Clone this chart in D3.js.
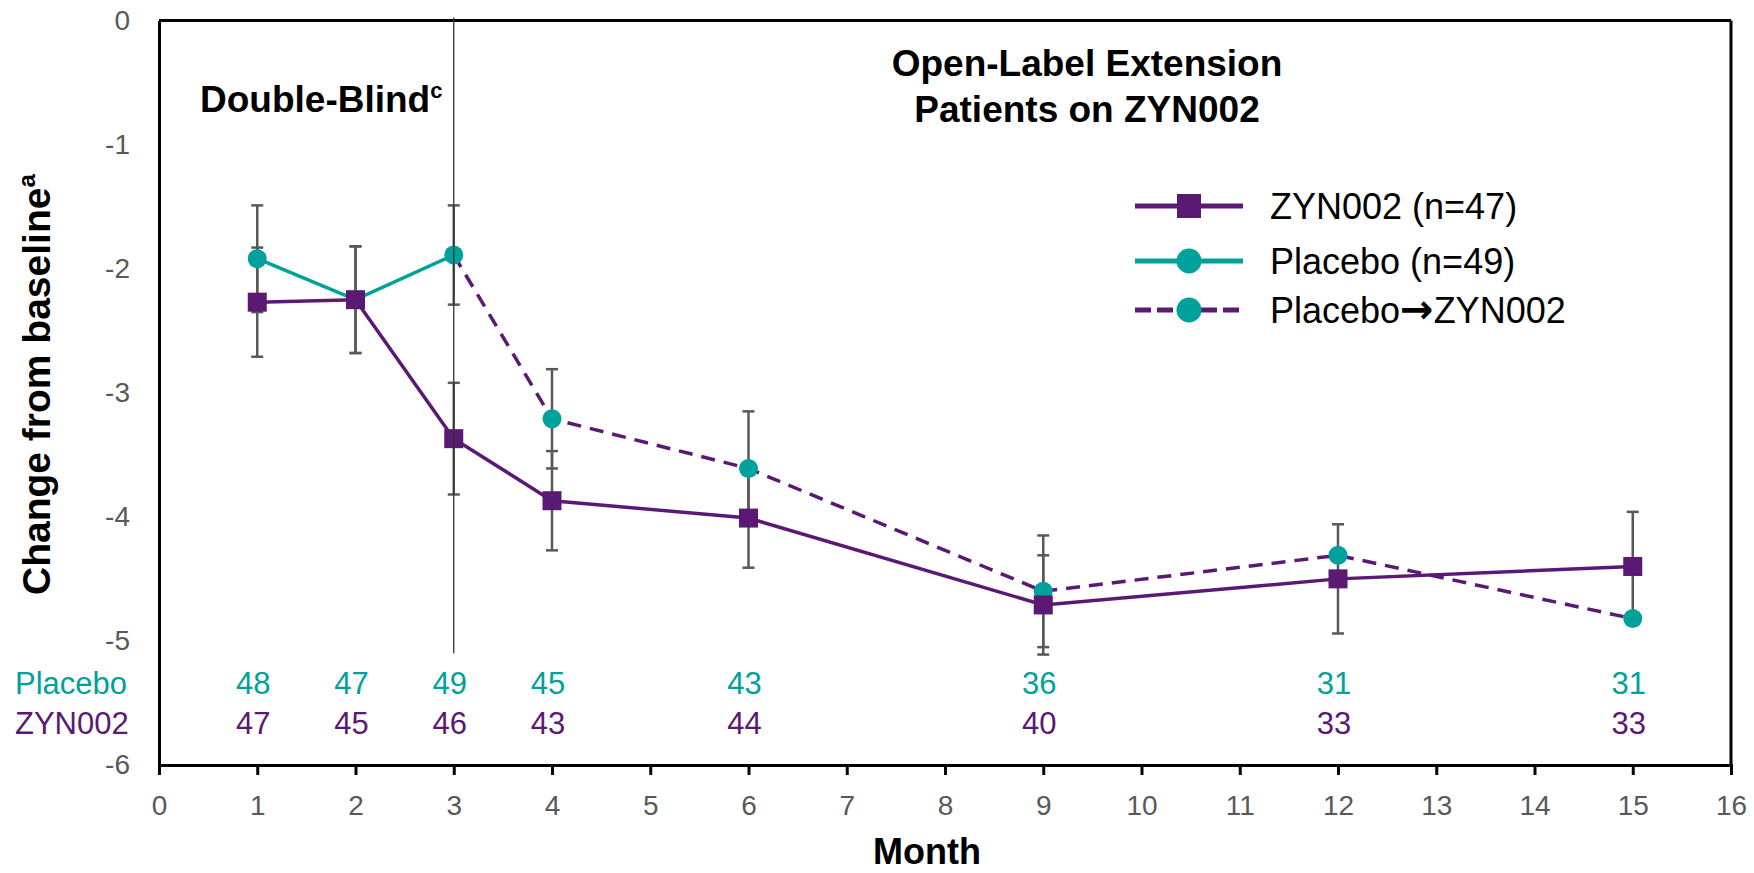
<!DOCTYPE html>
<html>
<head>
<meta charset="utf-8">
<script src="https://cdn.jsdelivr.net/npm/d3@7"></script>
<style>
  body { margin: 0; background: #fff; }
  text { font-family: "Liberation Sans", Arial, sans-serif; }
</style>
</head>
<body>
<div id="chart"></div>
<script>

// Values (change from baseline, mean +/- error)
const months = [1, 2, 3, 4, 6, 9, 12, 15];
const zynMean = [-2.27, -2.25, -3.37, -3.87, -4.01, -4.71, -4.50, -4.40];
const zynErr = [0.44, 0.43, 0.45, 0.40, 0.40, 0.40, 0.44, 0.44];

const placeboMonths = [1, 2, 3];
const placeboMean = [-1.92, -2.25, -1.89];
const placeboErr = [0.43, 0.43, 0.40];

// placebo patients switched to ZYN002 in the open-label extension
const switchMonths = [3, 4, 6, 9, 12, 15];
const switchMean = [-1.89, -3.21, -3.61, -4.60, -4.31, -4.82];
const switchErr = [null, 0.40, 0.46, 0.45, null, null];

// patient counts under the plot
const nPlacebo = [48, 47, 49, 45, 43, 36, 31, 31];
const nZyn = [47, 45, 46, 43, 44, 40, 33, 33];

const xTicks = d3.range(0, 17);
const yTicks = [0, -1, -2, -3, -4, -5, -6];
const legendLabels = [["ZYN002 (n=47)"], ["Placebo (n=49)"], ["Placebo", "\u2192", "ZYN002"]];

const purple = "#5a1a74";
const teal = "#00a19a";
const gray = "#595959";

// Set dimensions and margins
const margin = {top: 20.5, right: 23, bottom: 108, left: 159},
    width = 1754 - margin.left - margin.right,
    height = 873 - margin.top - margin.bottom;

const root = d3.select("#chart")
  .append("svg")
    .attr("width", 1754)
    .attr("height", 873);

const svg = root.append("g")
    .attr("transform", `translate(${margin.left}, ${margin.top})`);

const xScale = d3.scaleLinear().domain([0, 16]).range([0, width]);
const yScale = d3.scaleLinear().domain([-6, 0]).range([height, 0]);

// x axis
const xAxis = svg.append("g")
  .attr("transform", `translate(0, ${height})`)
  .call(d3.axisBottom(xScale).tickValues(xTicks).tickSize(10).tickSizeOuter(10).tickPadding(20));
xAxis.select(".domain").attr("stroke", "#000").attr("stroke-width", 3);
xAxis.selectAll(".tick line").attr("stroke", "#000").attr("stroke-width", 3);
xAxis.selectAll(".tick text").attr("fill", gray).style("font-size", "28px");

// y axis, no tick marks
const yAxis = svg.append("g")
  .call(d3.axisLeft(yScale).tickValues(yTicks).tickSize(0).tickSizeOuter(0).tickPadding(29)
    .tickFormat(d => String(d)));
yAxis.select(".domain").attr("stroke", "#000").attr("stroke-width", 3);
yAxis.selectAll(".tick text").attr("fill", gray).style("font-size", "28px");

// top and right frame
svg.append("line")
  .attr("x1", xScale(0)).attr("x2", xScale(16))
  .attr("y1", yScale(0)).attr("y2", yScale(0))
  .attr("stroke", "#000").attr("stroke-width", 3);
svg.append("line")
  .attr("x1", xScale(16)).attr("x2", xScale(16))
  .attr("y1", yScale(0)).attr("y2", yScale(-6))
  .attr("stroke", "#000").attr("stroke-width", 3);

// build point lists
const zynData = months.map((m, i) => ({m: m, v: zynMean[i], e: zynErr[i]}));
const placeboData = placeboMonths.map((m, i) => ({m: m, v: placeboMean[i], e: placeboErr[i]}));
const switchData = switchMonths.map((m, i) => ({m: m, v: switchMean[i], e: switchErr[i]}));

// error bars
function errorBars(data) {
  const g = svg.append("g").attr("stroke", gray).attr("stroke-width", 2.5);
  data.filter(d => d.e != null).forEach(function(d) {
    const x = xScale(d.m);
    g.append("line").attr("x1", x).attr("x2", x)
      .attr("y1", yScale(d.v + d.e)).attr("y2", yScale(d.v - d.e));
    [d.v + d.e, d.v - d.e].forEach(function(c) {
      g.append("line").attr("x1", x - 6).attr("x2", x + 6)
        .attr("y1", yScale(c)).attr("y2", yScale(c));
    });
  });
}
errorBars(placeboData);
errorBars(switchData);
errorBars(zynData);

const line = d3.line()
  .x(d => xScale(d.m))
  .y(d => yScale(d.v));

svg.append("path").datum(switchData)
  .attr("d", line).attr("fill", "none")
  .attr("stroke", purple).attr("stroke-width", 3.5)
  .attr("stroke-dasharray", "14,9");

svg.append("path").datum(placeboData)
  .attr("d", line).attr("fill", "none")
  .attr("stroke", teal).attr("stroke-width", 3.5);

svg.append("path").datum(zynData)
  .attr("d", line).attr("fill", "none")
  .attr("stroke", purple).attr("stroke-width", 3.5);

// markers
svg.append("g").selectAll("circle")
  .data(switchData.slice(1))
  .enter().append("circle")
    .attr("cx", d => xScale(d.m)).attr("cy", d => yScale(d.v))
    .attr("r", 9.5).attr("fill", teal);

svg.append("g").selectAll("circle")
  .data(placeboData)
  .enter().append("circle")
    .attr("cx", d => xScale(d.m)).attr("cy", d => yScale(d.v))
    .attr("r", 9.5).attr("fill", teal);

svg.append("g").selectAll("rect")
  .data(zynData)
  .enter().append("rect")
    .attr("x", d => xScale(d.m) - 9.5).attr("y", d => yScale(d.v) - 9.5)
    .attr("width", 19).attr("height", 19).attr("fill", purple);

// separator between double-blind and open-label phases
svg.append("line")
  .attr("x1", xScale(3)).attr("x2", xScale(3))
  .attr("y1", yScale(0) - 3).attr("y2", yScale(-5.1))
  .attr("stroke", "#333").attr("stroke-width", 1.3);

// patient counts
const nRows = [
  {label: "Placebo", values: nPlacebo, color: teal, y: 694},
  {label: "ZYN002", values: nZyn, color: purple, y: 734}
];
nRows.forEach(function(row) {
  root.append("text")
    .attr("x", 15).attr("y", row.y)
    .attr("fill", row.color).style("font-size", "31px")
    .text(row.label);
  root.append("g").selectAll("text")
    .data(row.values)
    .enter().append("text")
      .attr("x", (d, i) => margin.left + xScale(months[i]) - 4)
      .attr("y", row.y)
      .attr("text-anchor", "middle")
      .attr("fill", row.color).style("font-size", "31px")
      .text(d => d);
});

// phase titles
const db = root.append("text")
  .attr("x", 200).attr("y", 112)
  .style("font-size", "37px").style("font-weight", "bold")
  .text("Double-Blind");
db.append("tspan").attr("dy", -14).style("font-size", "22px").text("c");

root.append("text")
  .attr("x", 1087).attr("y", 76)
  .attr("text-anchor", "middle")
  .style("font-size", "37px").style("font-weight", "bold")
  .text("Open-Label Extension");
root.append("text")
  .attr("x", 1087).attr("y", 122)
  .attr("text-anchor", "middle")
  .style("font-size", "37px").style("font-weight", "bold")
  .text("Patients on ZYN002");

// axis titles
const yt = root.append("text")
  .attr("transform", "translate(50, 595) rotate(-90)")
  .style("font-size", "39px").style("font-weight", "bold")
  .text("Change from baseline");
yt.append("tspan").attr("dy", -15).style("font-size", "24px").text("a");

root.append("text")
  .attr("x", 927).attr("y", 864)
  .attr("text-anchor", "middle")
  .style("font-size", "36px").style("font-weight", "bold")
  .text("Month");

// legend
const legendRows = [206, 261, 310];
const legendStyles = [
  {line: purple, dash: null, marker: "square"},
  {line: teal, dash: null, marker: "circle"},
  {line: purple, dash: "16,6", marker: "circle"}
];
legendLabels.forEach(function(parts, i) {
  const ly = legendRows[i];
  const st = legendStyles[i];
  root.append("line")
    .attr("x1", 1135).attr("x2", 1243).attr("y1", ly).attr("y2", ly)
    .attr("stroke", st.line).attr("stroke-width", 5)
    .attr("stroke-dasharray", st.dash);
  if (st.marker == "square") {
    root.append("rect")
      .attr("x", 1189 - 12).attr("y", ly - 12)
      .attr("width", 24).attr("height", 24).attr("fill", purple);
  } else {
    root.append("circle")
      .attr("cx", 1189).attr("cy", ly).attr("r", 12.5).attr("fill", teal);
  }
  const t = root.append("text")
    .attr("x", 1270).attr("y", ly + 13)
    .style("font-size", "36px");
  parts.forEach(function(p) {
    const sp = t.append("tspan").text(p);
    if (p == "\u2192") {
      sp.style("font-family", "'DejaVu Sans', sans-serif").style("font-weight", "bold")
        .style("font-size", "40px");
    }
  });
});

</script>
</body>
</html>
